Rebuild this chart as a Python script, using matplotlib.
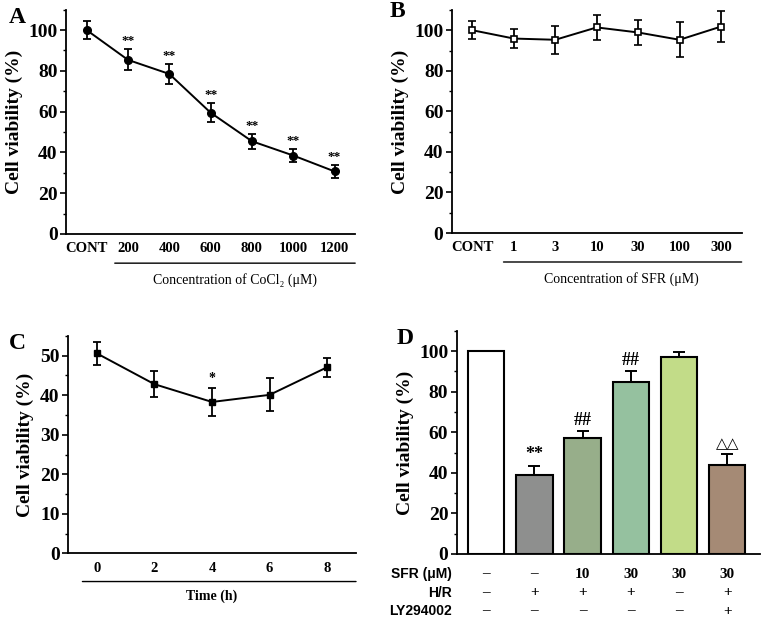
import matplotlib
matplotlib.use('Agg')
import matplotlib.pyplot as plt
from matplotlib.ticker import MultipleLocator
import numpy as np

plt.rcParams['font.family'] = ['Liberation Serif', 'DejaVu Serif']

# Panel A: CoCl2 concentration
cocl2_labels = ['CONT', '200', '400', '600', '800', '1000', '1200']
cocl2_mean = [100, 85.4, 78.5, 59.5, 45.5, 38.5, 30.7]
cocl2_err = [4.6, 5.2, 4.7, 4.7, 3.6, 3.2, 3.0]
cocl2_sig = ['', '**', '**', '**', '**', '**', '**']

# Panel B: SFR concentration
sfr_labels = ['CONT', '1', '3', '10', '30', '100', '300']
sfr_mean = [100, 95.9, 95.3, 101.4, 98.9, 95.3, 101.8]
sfr_err = [4.5, 4.7, 7.0, 6.0, 6.3, 8.6, 7.7]

# Panel C: time course
time_h = [0, 2, 4, 6, 8]
time_mean = [50.6, 42.8, 38.3, 40.1, 47.1]
time_err = [2.9, 3.3, 3.6, 4.2, 2.4]
time_sig = ['', '', '*', '', '']

# Panel D: treatment groups
d_mean = [100, 39.0, 57.2, 84.9, 97.3, 43.8]
d_err = [0, 4.6, 3.3, 5.4, 2.5, 5.3]
d_sig = ['', '**', '##', '##', '', '\u25b3\u25b3']
d_colors = ['#ffffff', '#8e8f8e', '#97ae8a', '#95c19f', '#c2dc88', '#a58a75']
d_rows = ['SFR (\u03bcM)', 'H/R', 'LY294002']
d_sfr = ['\u2013', '\u2013', '10', '30', '30', '30']
d_hr = ['\u2013', '+', '+', '+', '\u2013', '+']
d_ly = ['\u2013', '\u2013', '\u2013', '\u2013', '\u2013', '+']

fig = plt.figure(figsize=(7.65, 6.23), dpi=100)

def style(ax, ymax, major, minor):
    for s in ['top', 'right']:
        ax.spines[s].set_visible(False)
    for s in ['left', 'bottom']:
        ax.spines[s].set_linewidth(1.3)
    ax.set_ylim(0, ymax)
    ax.yaxis.set_major_locator(MultipleLocator(major))
    ax.yaxis.set_minor_locator(MultipleLocator(minor))
    ax.tick_params(axis='y', which='major', length=4, width=1.2, labelsize=14, pad=2)
    ax.tick_params(axis='y', which='minor', length=2.5, width=1.0)
    ax.tick_params(axis='x', length=0, labelsize=10.5, pad=6)
    for lab in ax.get_yticklabels() + ax.get_xticklabels():
        lab.set_fontweight('bold')
    ax.set_ylabel('Cell viability (%)', fontsize=14, fontweight='bold', labelpad=4)

def underline(ax, x0, x1, y):
    ax.annotate('', xy=(x0, y), xycoords=('data', 'axes fraction'),
                xytext=(x1, y), textcoords=('data', 'axes fraction'),
                arrowprops=dict(arrowstyle='-', lw=1.0, color='black', shrinkA=0, shrinkB=0))

# ---- A ----
axA = fig.add_axes([0.0863, 0.6244, 0.378, 0.36])
x = np.arange(len(cocl2_labels))
axA.errorbar(x, cocl2_mean, yerr=cocl2_err, color='black', lw=1.4, marker='o', ms=5.5,
             capsize=3, capthick=1.3, elinewidth=1.3)
for xi, m, e, s in zip(x, cocl2_mean, cocl2_err, cocl2_sig):
    if s:
        axA.text(xi, m + e + 1.0, s, ha='center', va='bottom', fontsize=9.5, fontweight='bold')
axA.set_xlim(-0.5, 6.5)
axA.set_xticks(x)
axA.set_xticklabels(cocl2_labels)
style(axA, 110, 20, 10)
underline(axA, 0.68, 6.5, -0.13)
axA.text(3.6, -0.175, 'Concentration of CoCl\u2082 (\u03bcM)', transform=axA.get_xaxis_transform(),
         ha='center', va='top', fontsize=10)
fig.text(0.012, 0.972, 'A', fontsize=17, fontweight='bold', va='center')

# ---- B ----
axB = fig.add_axes([0.5905, 0.626, 0.379, 0.358])
x = np.arange(len(sfr_labels))
axB.errorbar(x, sfr_mean, yerr=sfr_err, color='black', lw=1.4, marker='s', ms=5,
             mfc='white', mec='black', mew=1.2, capsize=3, capthick=1.3, elinewidth=1.3)
axB.set_xlim(-0.5, 6.5)
axB.set_xticks(x)
axB.set_xticklabels(sfr_labels)
style(axB, 110, 20, 10)
underline(axB, 0.75, 6.5, -0.13)
axB.text(3.6, -0.175, 'Concentration of SFR (\u03bcM)', transform=axB.get_xaxis_transform(),
         ha='center', va='top', fontsize=10)
fig.text(0.509, 0.982, 'B', fontsize=17, fontweight='bold', va='center')

# ---- C ----
axC = fig.add_axes([0.0889, 0.1119, 0.3765, 0.3488])
axC.errorbar(time_h, time_mean, yerr=time_err, color='black', lw=1.4, marker='s', ms=5,
             capsize=3, capthick=1.3, elinewidth=1.3)
for xi, m, e, s in zip(time_h, time_mean, time_err, time_sig):
    if s:
        axC.text(xi, m + e + 0.6, s, ha='center', va='bottom', fontsize=10, fontweight='bold')
axC.set_xlim(-1, 9)
axC.set_xticks(time_h)
style(axC, 55, 10, 5)
underline(axC, -0.5, 9, -0.13)
axC.text(4, -0.165, 'Time (h)', transform=axC.get_xaxis_transform(),
         ha='center', va='top', fontsize=10, fontweight='bold')
fig.text(0.012, 0.448, 'C', fontsize=17, fontweight='bold', va='center')

# ---- D ----
axD = fig.add_axes([0.597, 0.1108, 0.3965, 0.3582])
x = np.arange(len(d_mean))
axD.bar(x, d_mean, width=0.755, color=d_colors, edgecolor='black', lw=1.5, zorder=2)
axD.errorbar(x[1:], d_mean[1:], yerr=[np.zeros(len(d_mean) - 1), d_err[1:]], fmt='none',
             ecolor='black', elinewidth=1.4, capsize=4, capthick=1.4, zorder=1)
for xi, m, e, s in zip(x, d_mean, d_err, d_sig):
    if s:
        if s.startswith('\u25b3'):
            axD.text(xi, m + e + 1.5, s, ha='center', va='bottom', fontsize=11,
                     family=['DejaVu Sans'])
        else:
            axD.text(xi, m + e + 1.0, s, ha='center', va='bottom', fontsize=13, fontweight='bold')
axD.set_xlim(-0.61, 5.68)
axD.set_xticks([])
style(axD, 110, 20, 10)
tr = axD.get_xaxis_transform()
row_y = [-0.09, -0.173, -0.256]
for ry, name, vals in zip(row_y, d_rows, [d_sfr, d_hr, d_ly]):
    axD.text(-0.72, ry, name, transform=tr, ha='right', va='center', fontsize=10,
             fontweight='bold', family=['Liberation Sans', 'DejaVu Sans'])
    for xi, v in zip(x, vals):
        axD.text(xi, ry, v, transform=tr, ha='center', va='center', fontsize=11, fontweight='bold')
fig.text(0.519, 0.456, 'D', fontsize=17, fontweight='bold', va='center')

fig.savefig('out.png', dpi=100)
